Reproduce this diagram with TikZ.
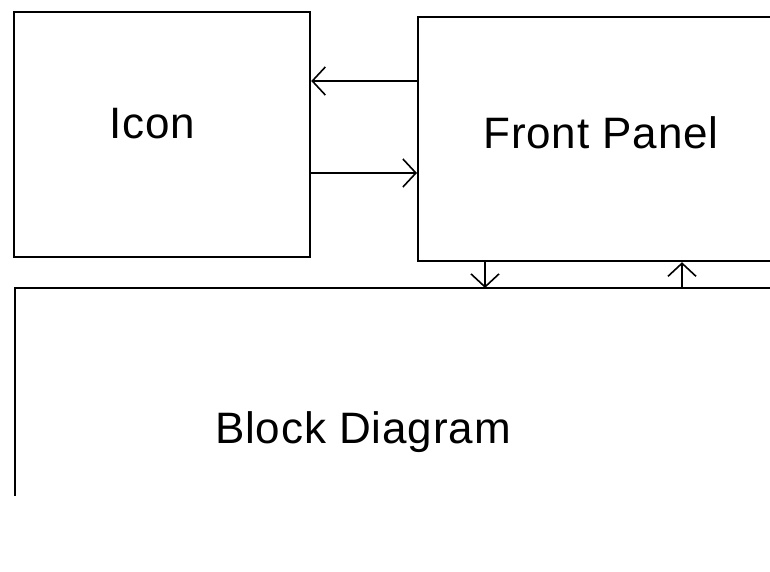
\documentclass[tikz,border=0pt]{standalone}
\usepackage{fontspec}
\setmainfont{Liberation Sans}
\newfontfamily\lblfont[LetterSpace=2]{Liberation Sans}
\usetikzlibrary{arrows.meta,calc,positioning}

\begin{document}
\begin{tikzpicture}[x=1pt,y=-1pt,>={Straight Barb[length=13pt,width=28pt]},
		box/.style={draw,line width=2.2pt,inner sep=0pt,anchor=north west},
		lbl/.style={font=\lblfont\fontsize{44}{50}\selectfont,anchor=base,inner sep=0pt},
		link/.style={->,line width=1.6pt}]
				\clip (0,0) rectangle (770,571);
				\node[box,minimum width=296pt,minimum height=245pt] (icon) at (13,11) {};
				\node[box,minimum width=380pt,minimum height=244pt] (front_panel) at (417,16) {};
				\coordinate (block_diagram) at (15,288);
				\coordinate (block_end) at (15,496);
				\coordinate (block_right) at (790,288);
				\draw[line width=2.2pt] (block_end) -- (block_diagram) -- (block_right);
				% labels
				\node[lbl] (icon_text) at (152,138) {Icon};
				\node[lbl] (fp_text) at (601,148) {Front Panel};
				\node[lbl] (bd_text) at (363,443) {Block Diagram};
				% connectors
				\coordinate (upper) at (0,81);
				\coordinate (lower) at (0,173);
				\coordinate (down) at (485,0);
				\coordinate (up) at (682,0);
				\draw[link] (front_panel.west |- upper) -- (icon.east |- upper);
				\draw[link] (icon.east |- lower) -- (front_panel.west |- lower);
				\draw[link] (down |- front_panel.south) -- (down |- block_diagram);
				\draw[link] (up |- block_diagram) -- (up |- front_panel.south);
			\end{tikzpicture}
\end{document}
